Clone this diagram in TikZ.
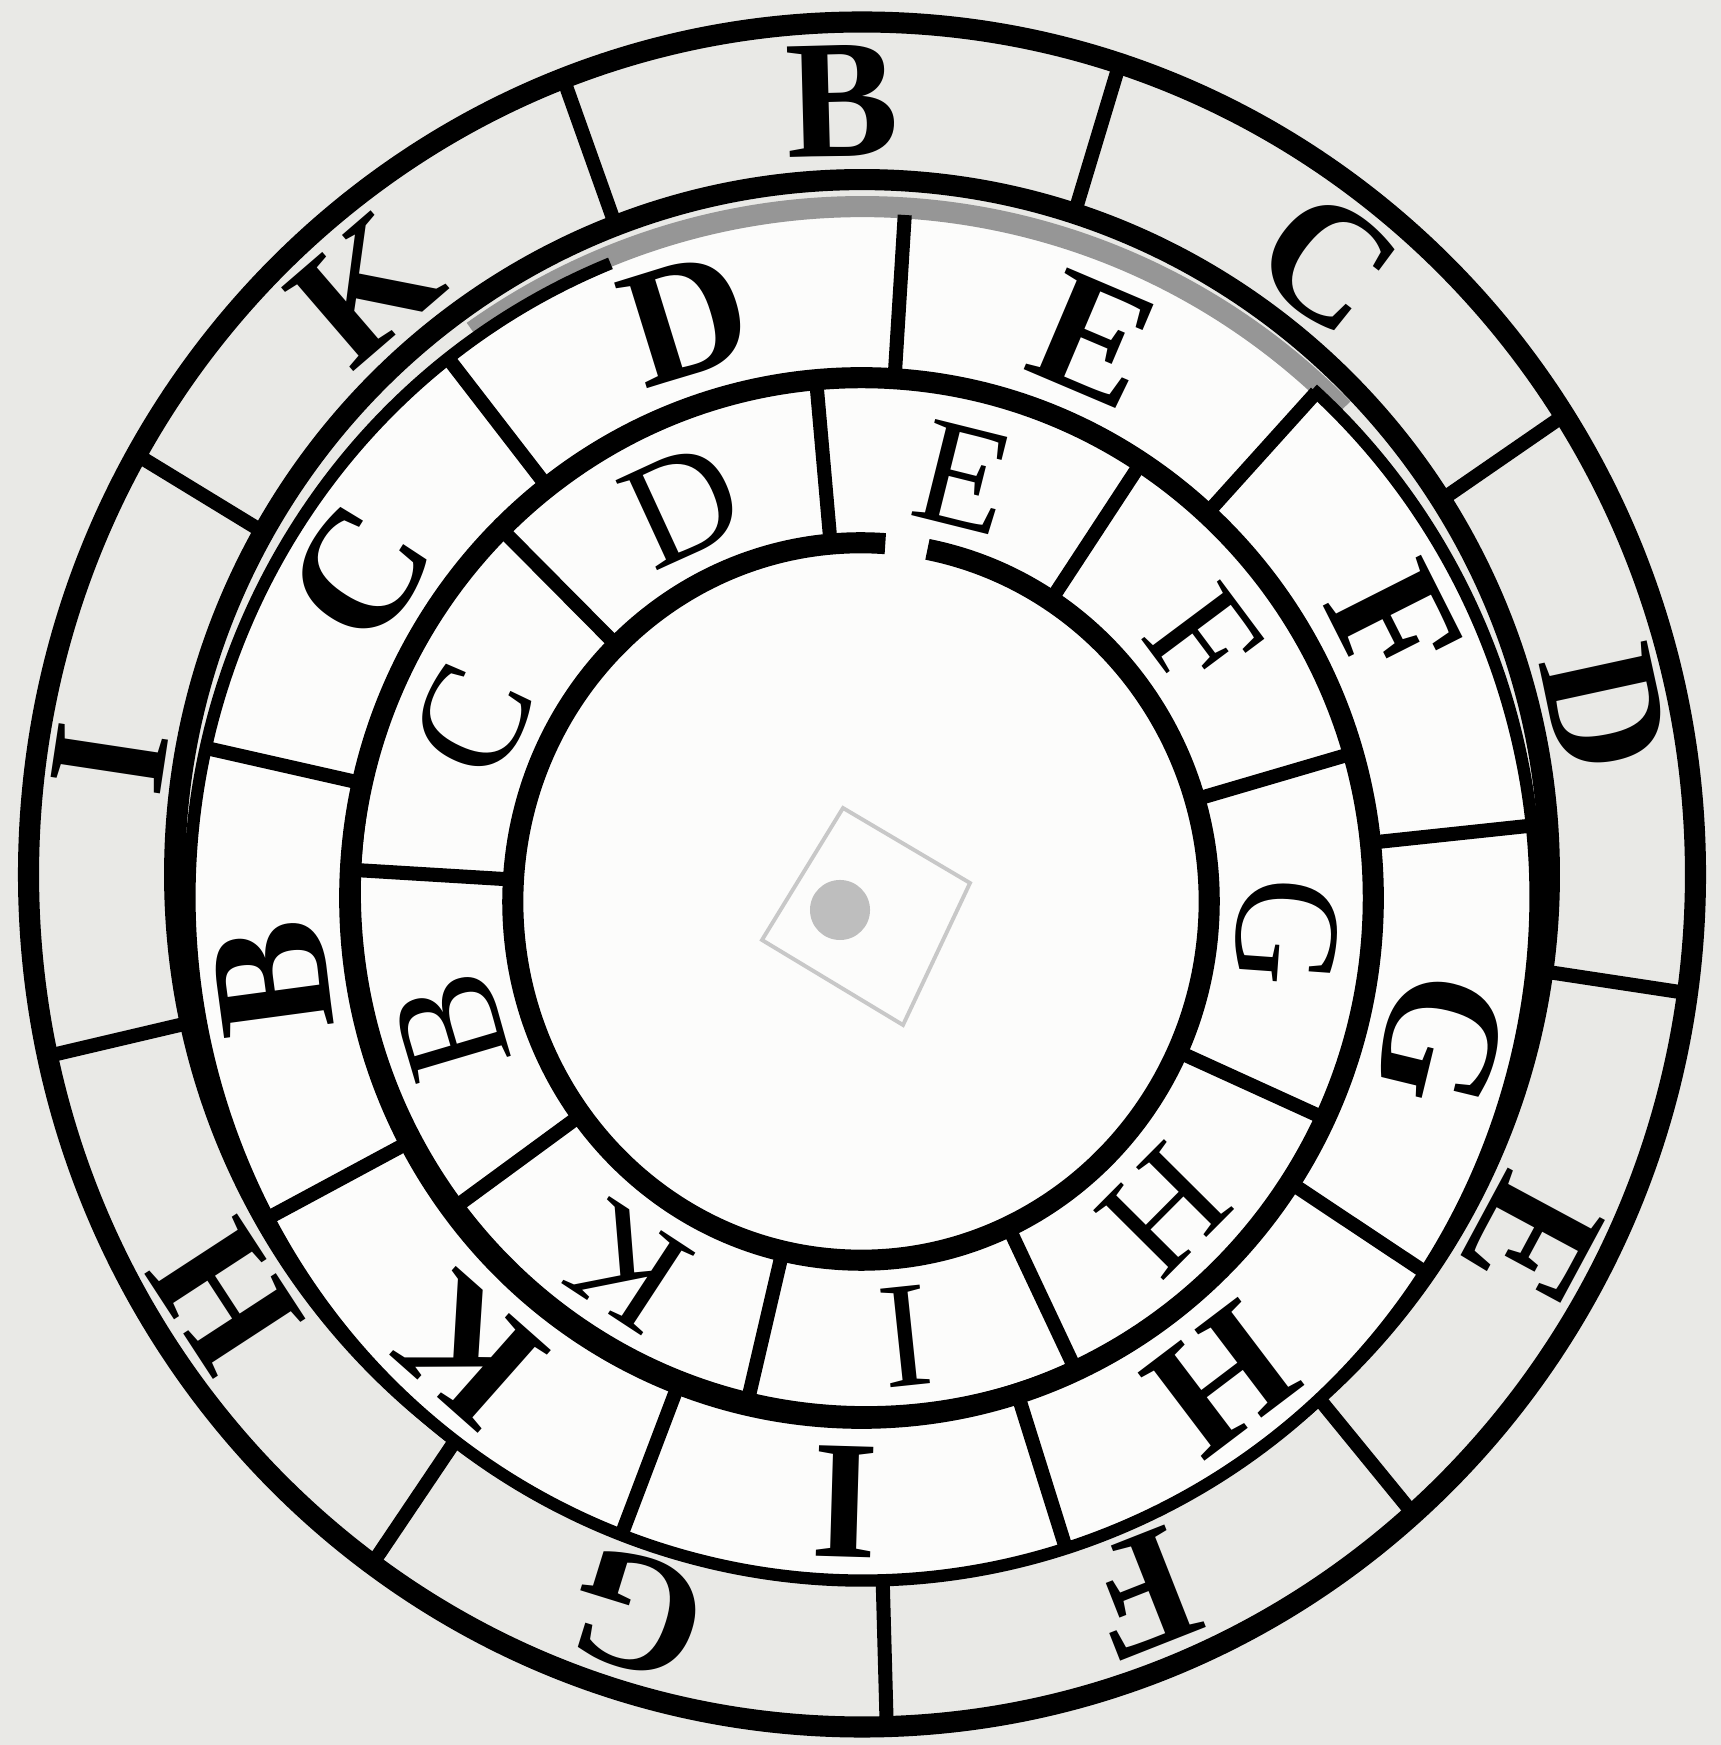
\documentclass[tikz,border=0pt]{standalone}
\usepackage{fontspec}
\setmainfont{Liberation Serif}
\usetikzlibrary{calc}
\definecolor{paper}{RGB}{233,233,230}
\definecolor{disc}{RGB}{252,252,251}
\definecolor{bandgrey}{RGB}{150,150,150}
\definecolor{pinmark}{RGB}{200,200,200}
\definecolor{blotgrey}{RGB}{190,190,190}
\begin{document}
\begin{tikzpicture}[x=0.01cm,y=0.01cm,
  ringline/.style={line width=6pt},
  divline/.style={line width=4pt},
  thinring/.style={line width=1.8pt},
  bigletter/.style={inner sep=0pt, font=\fontsize{48}{48}\selectfont\bfseries},
  smallletter/.style={inner sep=0pt, font=\fontsize{43}{43}\selectfont}]
\useasboundingbox (0,0) rectangle (1721,1745);
\fill[paper] (0,0) rectangle (1721,1745);
\coordinate (O1) at (862,870.5);
\coordinate (O2) at (862.5,848);
\coordinate (C4c) at (861.5,847);
\coordinate (C5c) at (866,853);
\coordinate (O3) at (861,843.5);
% outer ring
\draw[ringline] (O1) ellipse [x radius=8.33cm, y radius=8.52cm];
\draw[ringline] (O1) ellipse [x radius=6.87cm, y radius=6.945cm];
\foreach \a in {111,72,32.6,-8,-48.6,-88.3,-126,-167.7,150.5}
  \draw[divline] ($(O1)+(\a:8.33cm and 8.52cm)$) -- ($(O1)+(\a:6.87cm and 6.945cm)$);
\foreach \l/\a in {B/91.5,C/52.3,D/12.3,E/-28.3,F/-68.5,G/-107.2,H/-146.9,I/171.4,K/130.75}
  \node[bigletter, rotate=\a-90] (out\l) at ($(O1)+(\a:7.60cm and 7.73cm)$) {\l};
% middle disc
\fill[disc] (O2) ellipse [x radius=6.725cm, y radius=6.83cm];
\draw[bandgrey, line width=6pt] ($(O2)+(45:6.79cm and 6.90cm)$) arc[start angle=45, end angle=125, x radius=6.79cm, y radius=6.90cm];
\draw[line width=3.5pt] ($(O2)+(112:6.725cm and 6.83cm)$) arc[start angle=112, end angle=408, x radius=6.725cm, y radius=6.83cm];
\foreach \a in {128,86.4,47.6,6,-33.3,-72.4,-111,-152,167.4}
  \draw[divline] ($(O2)+(\a:6.725cm and 6.83cm)$) -- ($(O2)+(\a:5.115cm and 5.20cm)$);
\foreach \l/\a in {D/107.2,E/67,F/26.8,G/-13.65,H/-52.85,I/-91.7,K/-131.5,B/-172.3,C/147.7}
  \node[bigletter, rotate=\a-90] (mid\l) at ($(O2)+(\a:5.95cm and 6.05cm)$) {\l};
% inner disc
\draw[ringline] (C4c) ellipse [x radius=5.115cm, y radius=5.20cm];
\draw[thinring] (C5c) ellipse [x radius=5.08cm, y radius=5.17cm];
\foreach \a in {134.5,95,57,16.5,-24.7,-65,-103,-143.5,176.5}
  \draw[divline] ($(O3)+(\a:5.06cm and 5.15cm)$) -- ($(O3)+(\a:3.48cm and 3.585cm)$);
\draw[ringline] ($(O3)+(86:3.48cm and 3.585cm)$) arc[start angle=86, end angle=439, x radius=3.48cm, y radius=3.585cm];
\foreach \l/\a in {D/114.75,E/76,F/36.75,G/-4.1,H/-44.85,I/-84,K/-123.25,B/-163.5,C/155.5}
  \node[smallletter, rotate=\a-90] (in\l) at ($(O3)+(\a:4.27cm and 4.37cm)$) {\l};
% pin mark
\draw[draw=pinmark, line width=1.1pt] (843,937) -- (970,862) -- (903,720) -- (762,805) -- cycle;
\fill[blotgrey] (840,835) circle [radius=0.3cm];
\end{tikzpicture}
\end{document}
